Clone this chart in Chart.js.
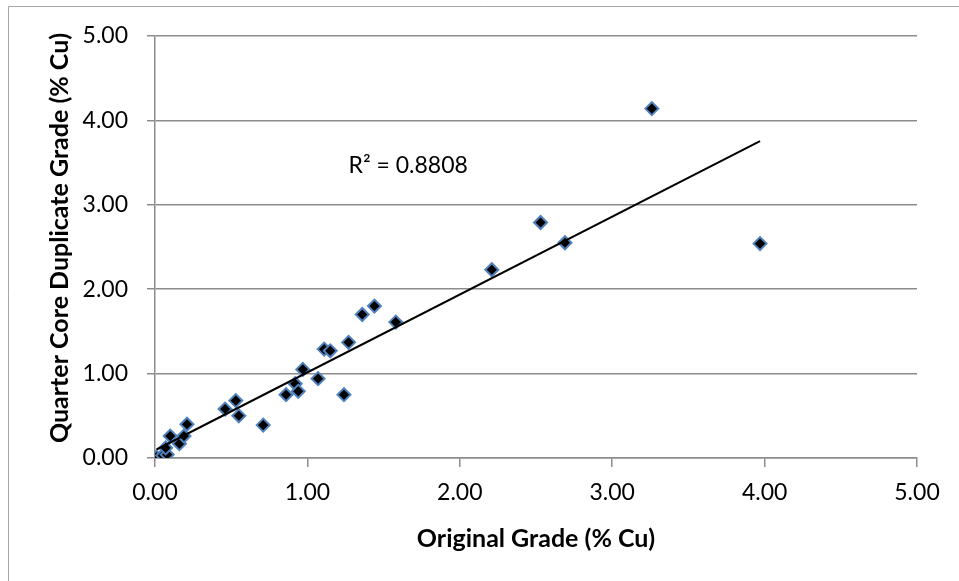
<!DOCTYPE html>
<html>
<head>
<meta charset="utf-8">
<title>Quarter core duplicates</title>
<script src="https://cdn.jsdelivr.net/npm/chart.js@4.4.1/dist/chart.umd.min.js"></script>
<style>
  html, body { margin: 0; padding: 0; background: #fff; }
  #wrap { width: 959px; height: 581px; }
</style>
</head>
<body>
<div id="wrap"><canvas id="chart" width="959" height="581"></canvas></div>
<script>
'use strict';

// original assay vs quarter core duplicate, % Cu
let originalGrade = [
  0.01, 0.05, 0.08, 0.07, 0.10, 0.16, 0.19, 0.21,
  0.46, 0.53, 0.55, 0.71,
  0.86, 0.92, 0.94, 0.97, 1.07, 1.24,
  1.11, 1.15, 1.27, 1.36, 1.44, 1.58,
  2.21, 2.53, 2.69, 3.26, 3.97
];
let duplicateGrade = [
  0.01, 0.03, 0.04, 0.12, 0.26, 0.17, 0.26, 0.40,
  0.58, 0.68, 0.50, 0.39,
  0.75, 0.88, 0.79, 1.05, 0.94, 0.75,
  1.29, 1.27, 1.37, 1.70, 1.80, 1.61,
  2.23, 2.79, 2.55, 4.14, 2.54
];
let tickLabels = ['0.00', '1.00', '2.00', '3.00', '4.00', '5.00'];

let xTitle = 'Original Grade (% Cu)';
let yTitle = 'Quarter Core Duplicate Grade (% Cu)';
let rSquaredText = 'R\u00b2 = 0.8808';
let rSquaredAt = { x: 1.27, y: 3.46 };

let fontFamily = 'Lato, "Open Sans", sans-serif';
let gridColor = '#8c8c8c';

let canvasElem = document.getElementById('chart');

// least squares line through the points, drawn across the data range
function trendLine(xs, ys) {
  let n = xs.length;
  let sx = 0, sy = 0, sxx = 0, sxy = 0;
  for (let i = 0; i < n; i++) {
    sx += xs[i];
    sy += ys[i];
    sxx += xs[i] * xs[i];
    sxy += xs[i] * ys[i];
  }
  let slope = (n * sxy - sx * sy) / (n * sxx - sx * sx);
  let intercept = (sy - slope * sx) / n;
  let lo = Math.min(...xs);
  let hi = Math.max(...xs);
  return [
    { x: lo, y: intercept + slope * lo },
    { x: hi, y: intercept + slope * hi }
  ];
}

// frame, axis titles and the R² note
let extrasPlugin = {
  id: 'extras',
  beforeDraw(chart) {
    let ctx = chart.ctx;
    ctx.save();
    ctx.strokeStyle = '#a6a6a6';
    ctx.lineWidth = 1;
    ctx.beginPath();
    ctx.moveTo(8.5, 2000);
    ctx.lineTo(8.5, 6.5);
    ctx.lineTo(2000, 6.5);
    ctx.stroke();
    ctx.restore();
  },
  afterDraw(chart) {
    let ctx = chart.ctx;
    let area = chart.chartArea;
    let xs = chart.scales.x;
    let ys = chart.scales.y;
    ctx.save();
    ctx.fillStyle = '#000';
    ctx.textBaseline = 'middle';

    ctx.font = 'bold 25px ' + fontFamily;
    ctx.textAlign = 'center';
    ctx.fillText(xTitle, (area.left + area.right) / 2, 539);

    ctx.save();
    ctx.translate(60, 238);
    ctx.rotate(-Math.PI / 2);
    ctx.fillText(yTitle, 0, 0);
    ctx.restore();

    ctx.font = '23px ' + fontFamily;
    ctx.textAlign = 'left';
    ctx.fillText(rSquaredText, xs.getPixelForValue(rSquaredAt.x), ys.getPixelForValue(rSquaredAt.y));
    ctx.restore();
  }
};

function tickText(value) {
  let idx = Math.round(value);
  return tickLabels[idx] !== undefined ? tickLabels[idx] : '';
}

let points = [];
for (let i = 0; i < originalGrade.length; i++) {
  points.push({ x: originalGrade[i], y: duplicateGrade[i] });
}

let chartObj = {
  type: 'scatter',
  data: {
    datasets: [
      {
        label: 'Trend',
        data: trendLine(originalGrade, duplicateGrade),
        showLine: true,
        borderColor: '#000',
        borderWidth: 2,
        pointRadius: 0,
        pointHoverRadius: 0,
        order: 0
      },
      {
        label: 'Duplicates',
        data: points,
        pointStyle: 'rectRot',
        pointRadius: 6.5,
        pointHoverRadius: 6.5,
        borderWidth: 2,
        backgroundColor: '#000',
        borderColor: '#4f81bd',
        order: 1
      }
    ]
  },
  options: {
    responsive: false,
    animation: false,
    devicePixelRatio: 1,
    events: [],
    layout: {
      padding: { top: 36, right: 42, left: 0, bottom: 0 }
    },
    scales: {
      x: {
        type: 'linear',
        min: 0,
        max: 5,
        afterFit(scale) { scale.height = 123; },
        ticks: {
          stepSize: 1,
          padding: 12,
          color: '#000',
          font: { family: fontFamily, size: 23 },
          callback: tickText
        },
        grid: {
          drawOnChartArea: false,
          drawTicks: true,
          tickLength: 9,
          color: gridColor,
          lineWidth: 1.5
        },
        border: { color: gridColor, width: 1.5 }
      },
      y: {
        type: 'linear',
        min: 0,
        max: 5,
        afterFit(scale) { scale.width = 155; },
        ticks: {
          stepSize: 1,
          padding: 19,
          color: '#000',
          font: { family: fontFamily, size: 23 },
          callback: tickText
        },
        grid: {
          drawTicks: true,
          tickLength: 8,
          color: gridColor,
          lineWidth: 1.5
        },
        border: { color: gridColor, width: 1.5 }
      }
    },
    plugins: {
      legend: { display: false },
      tooltip: { enabled: false }
    }
  },
  plugins: [extrasPlugin]
};

new Chart(canvasElem, chartObj);
</script>
</body>
</html>
